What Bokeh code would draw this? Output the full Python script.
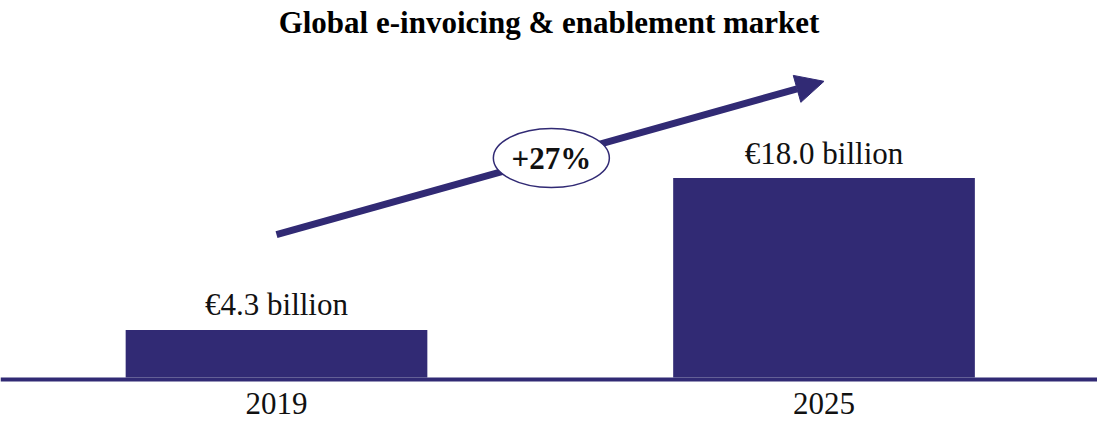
from bokeh.plotting import figure
from bokeh.models import Range1d, Span, Arrow, NormalHead
from bokeh.core.properties import value
from bokeh.embed import file_html
from bokeh.resources import INLINE

# ---- data ----
chart_title = "Global e-invoicing & enablement market"
years = ["2019", "2025"]
market_bn = [4.3, 18.0]
value_labels = ["€4.3 billion", "€18.0 billion"]
cagr_label = "+27%"

# ---- style / layout ----
NAVY = "#312a74"
FONT = "Liberation Serif"
W, H = 1097, 423
TOP = 40
PX_PER_UNIT = 11.14
BASE = 376.8  # figure px of value 0

idx = list(range(len(years)))

p = figure(width=W, height=H, output_backend="svg", toolbar_location=None,
           x_range=Range1d(-0.5041, 1.4995),
           y_range=Range1d(-(H - BASE) / PX_PER_UNIT, (BASE - TOP) / PX_PER_UNIT),
           min_border_left=0, min_border_right=0, min_border_bottom=0,
           min_border_top=TOP, title=chart_title)
p.title.align = "center"
p.title.text_font = FONT
p.title.text_font_size = "31px"
p.title.text_font_style = "bold"
p.title.text_color = "#000000"
p.title.standoff = 5
p.axis.visible = False
p.grid.visible = False
p.outline_line_color = None
p.background_fill_color = "white"
p.border_fill_color = "white"

p.vbar(x=idx, top=market_bn, bottom=0, width=0.551, fill_color=NAVY, line_color=None)

p.add_layout(Span(location=-2 / PX_PER_UNIT, dimension="width", line_color=NAVY, line_width=4))

p.text(x=idx, y=market_bn, text=value_labels, text_align="center", text_baseline="alphabetic",
       y_offset=-25, text_font=value(FONT), text_font_size="31px", text_color="#111111")

p.text(x=idx, y=[0] * len(idx), text=years, text_align="center", text_baseline="alphabetic",
       y_offset=26, text_font=value(FONT), text_font_size="31px", text_color="#111111")

arrow = Arrow(x_start=0, y_start=12.89, x_end=1, y_end=26.73, line_color=NAVY, line_width=7,
              end=NormalHead(size=28, fill_color=NAVY, line_color=NAVY), level="underlay")
p.add_layout(arrow)

p.ellipse(x=[0.502], y=[19.81], width=116, height=59, width_units="screen", height_units="screen",
          fill_color="white", line_color=NAVY, line_width=1.5, level="overlay")
p.text(x=[0.502], y=[19.81], text=[cagr_label], text_align="center", text_baseline="middle",
       text_font=value(FONT), text_font_size="31px", text_font_style="bold", text_color="#111111",
       level="overlay")

open("out.html", "w").write(file_html(p, INLINE))
